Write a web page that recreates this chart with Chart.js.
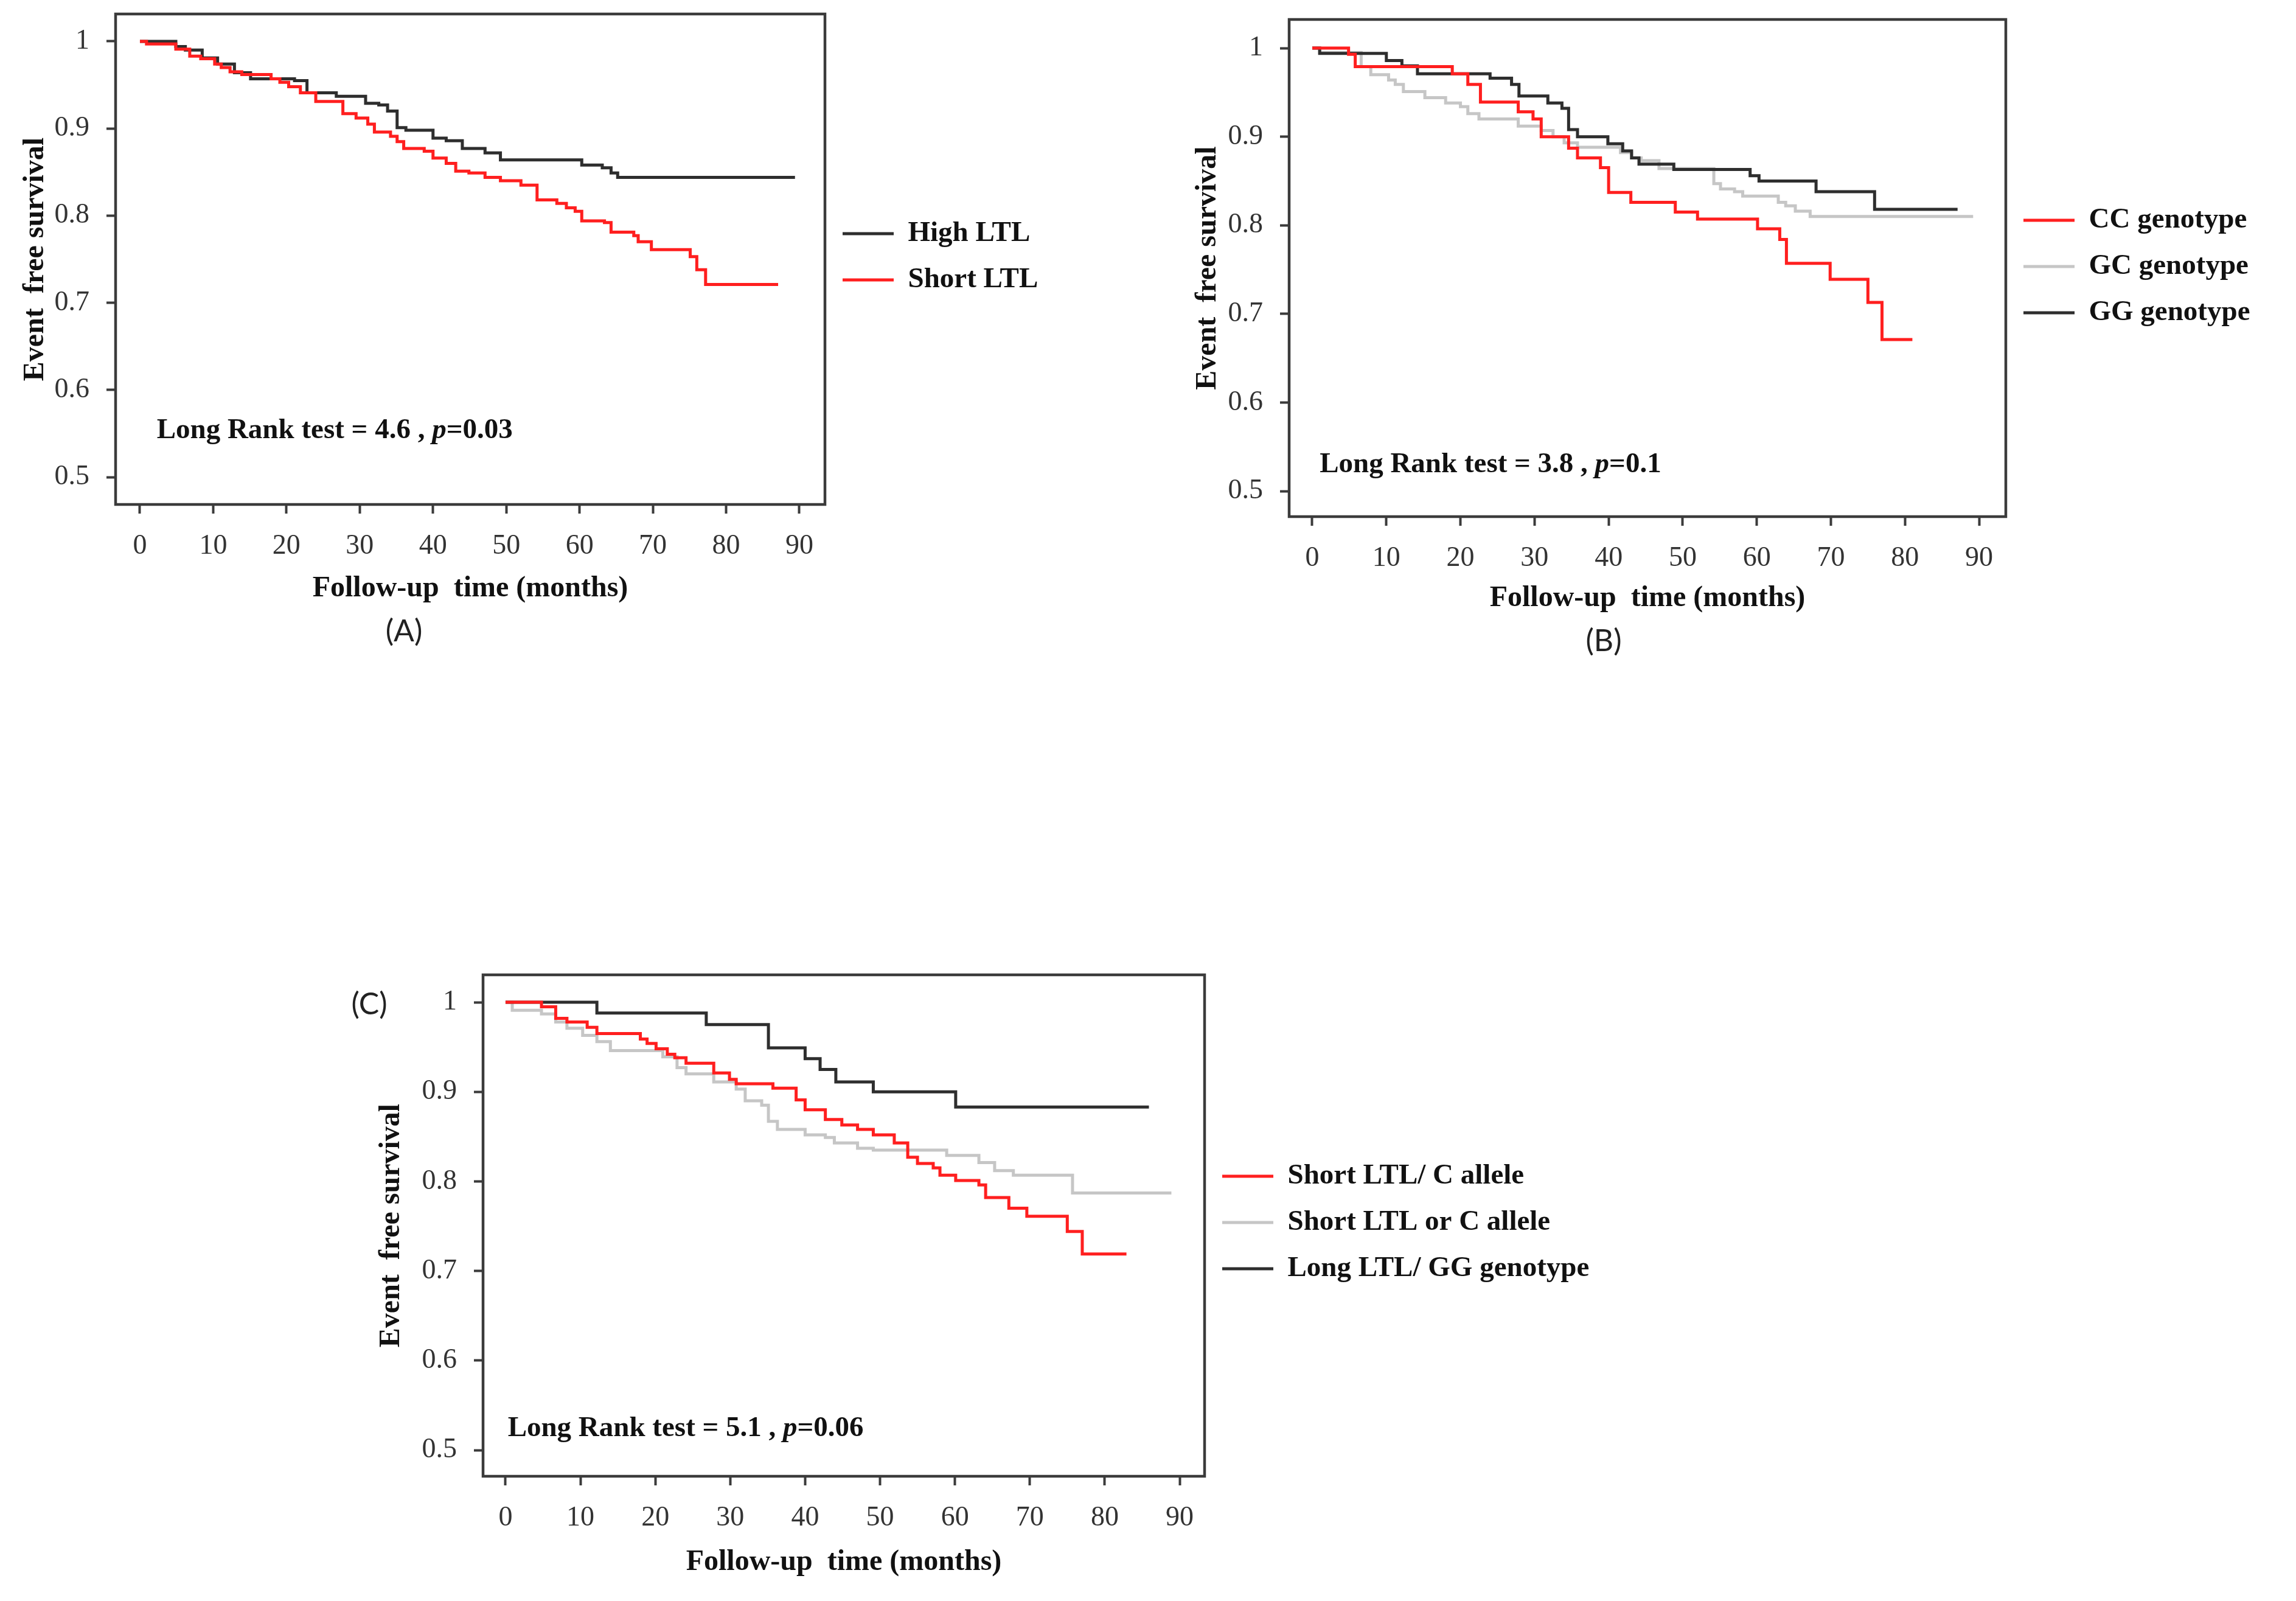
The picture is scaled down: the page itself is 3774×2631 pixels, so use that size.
<!DOCTYPE html>
<html><head><meta charset="utf-8">
<script src="https://cdn.jsdelivr.net/npm/chart.js@4.4.1/dist/chart.umd.min.js"></script>
<style>
html,body{margin:0;padding:0;background:#fff;width:3774px;height:2631px;overflow:hidden;position:relative;}
canvas{position:absolute;}
</style></head><body>
<canvas id="cA" width="1900" height="1140" style="left:0px;top:-40px;width:1900px;height:1140px"></canvas>
<canvas id="cB" width="1824" height="1107" style="left:1950px;top:-30px;width:1824px;height:1107px"></canvas>
<canvas id="cC" width="2750" height="1091" style="left:0px;top:1540px;width:2750px;height:1091px"></canvas>
<script>
// ---- axis ticks ----
const xTicks = [0,10,20,30,40,50,60,70,80,90];
const xTickLabels = ['0','10','20','30','40','50','60','70','80','90'];
const yTicks = [0.5,0.6,0.7,0.8,0.9,1];
const yTickLabels = ['0.5','0.6','0.7','0.8','0.9','1'];
const xTitle = 'Follow-up  time (months)';
const yTitle = 'Event  free survival';

// ---- Panel A ----
const labelsA = ['High LTL','Short LTL'];
const highLTL_t = [0,4.9,6.2,8.5,10.6,12.9,15.1,21.1,22.8,26.8,30.8,32.6,33.8,35.1,36.3,40.0,41.8,44.0,47.1,49.2,60.3,63.1,64.3,65.2,89.4];
const highLTL_s = [1,0.994,0.990,0.981,0.974,0.964,0.957,0.955,0.941,0.937,0.929,0.927,0.920,0.901,0.898,0.889,0.886,0.877,0.872,0.864,0.858,0.855,0.849,0.844,0.844];
const shortLTL_t = [0,0.9,4.9,6.8,8.3,10.2,11.1,12.3,13.9,17.9,19.1,20.3,21.9,24.0,27.7,29.5,31.1,32.0,34.2,35.1,36.0,38.8,40.0,41.8,43.1,44.9,47.1,49.2,52.0,54.2,56.9,58.2,59.4,60.3,63.4,64.3,67.4,68.0,69.8,75.1,76.0,77.2,87.1];
const shortLTL_s = [1,0.997,0.991,0.983,0.980,0.974,0.970,0.965,0.962,0.957,0.953,0.948,0.941,0.931,0.917,0.912,0.905,0.896,0.891,0.885,0.877,0.874,0.866,0.860,0.851,0.849,0.844,0.840,0.835,0.818,0.814,0.809,0.805,0.794,0.792,0.781,0.777,0.770,0.761,0.753,0.738,0.721,0.721];
const statA = [['Long Rank test = 4.6 , ',false],['p',true],['=0.03',false]];

// ---- Panel B ----
const labelsB = ['CC genotype','GC genotype','GG genotype'];
const cc_t = [0,4.9,5.8,18.9,21.0,22.7,27.8,29.8,30.9,34.6,35.8,38.9,40.0,43.0,49.0,52.0,60.1,63.1,64.0,69.9,75.0,76.9,81.0];
const cc_s = [1,0.993,0.979,0.971,0.959,0.939,0.928,0.920,0.900,0.887,0.876,0.865,0.837,0.826,0.815,0.807,0.796,0.784,0.757,0.739,0.713,0.671,0.671];
const gc_t = [0,1.0,6.6,7.9,10.3,11.2,12.3,15.2,18.0,20.0,21.0,22.5,27.8,30.9,32.5,34.0,35.8,41.6,43.1,44.4,46.8,54.2,55.1,57.0,58.1,62.9,63.9,65.2,67.2,89.2];
const gc_s = [1,0.995,0.979,0.970,0.964,0.959,0.951,0.944,0.938,0.934,0.926,0.920,0.912,0.907,0.900,0.893,0.888,0.882,0.876,0.873,0.864,0.847,0.841,0.838,0.833,0.826,0.822,0.816,0.810,0.810];
const gg_t = [0,1.0,10.0,12.1,14.2,24.0,26.9,27.9,31.8,33.7,34.6,35.8,39.9,41.9,43.1,44.1,48.8,59.1,60.3,68.0,75.9,87.1];
const gg_s = [1,0.994,0.986,0.980,0.971,0.966,0.959,0.946,0.938,0.932,0.908,0.900,0.892,0.884,0.876,0.869,0.863,0.856,0.850,0.838,0.818,0.818];
const statB = [['Long Rank test = 3.8 , ',false],['p',true],['=0.1',false]];

// ---- Panel C ----
const labelsC = ['Short LTL/ C allele','Short LTL or C allele','Long LTL/ GG genotype'];
const shortC_t = [0,4.8,6.7,8.2,10.9,12.2,18.0,18.9,20.1,21.6,22.6,24.1,27.8,29.9,30.8,35.7,38.8,40.0,42.7,44.9,47.0,49.1,51.9,53.7,55.0,57.1,58.0,60.1,63.2,64.1,67.2,69.6,75.0,77.0,82.9];
const shortC_s = [1,0.995,0.982,0.978,0.972,0.965,0.959,0.954,0.948,0.942,0.938,0.932,0.921,0.914,0.909,0.904,0.891,0.880,0.869,0.863,0.858,0.852,0.843,0.827,0.820,0.815,0.807,0.801,0.796,0.782,0.770,0.761,0.744,0.719,0.719];
const orC_t = [0,0.9,4.8,6.7,8.2,10.3,12.2,14.0,21.0,22.9,24.1,27.8,30.8,32.0,34.2,35.1,36.3,40.0,42.7,43.9,47.0,49.1,58.9,63.2,65.3,67.8,75.7,88.9];
const orC_s = [1,0.991,0.987,0.978,0.971,0.963,0.956,0.946,0.939,0.927,0.920,0.911,0.903,0.890,0.885,0.867,0.858,0.852,0.849,0.843,0.837,0.835,0.829,0.821,0.812,0.807,0.787,0.787];
const longC_t = [0,12.2,26.8,35.1,40.0,42.0,44.1,49.1,60.1,85.9];
const longC_s = [1,0.988,0.975,0.949,0.937,0.925,0.911,0.900,0.883,0.883];
const statC = [['Long Rank test = 5.1 , ',false],['p',true],['=0.06',false]];

const RED = '#ff1f1f', BLACK = '#2e2e2e', GRAY = '#c6c6c6';
const SERIF = '"Liberation Serif", "DejaVu Serif", serif';
Chart.defaults.font.family = SERIF;

function pts(t, s){ return t.map((v,i)=>({x:v, y:s[i]})); }
function ds(label, t, s, color, order){
  return { label, data: pts(t,s), borderColor: color, backgroundColor: color,
    borderWidth: 5, pointRadius: 0, pointHoverRadius: 0, pointBorderWidth: 5,
    pointBorderColor: color, pointBackgroundColor: color,
    stepped: 'before', tension: 0, fill: false, order,
    borderCapStyle: 'butt', borderJoinStyle: 'miter' };
}

const notesPlugin = {
  id: 'notes',
  afterDatasetsDraw(chart, args, o){
    const {ctx, chartArea: ca, scales} = chart;
    ctx.save();
    ctx.strokeStyle = '#3b3b3b'; ctx.lineWidth = 4.5;
    ctx.strokeRect(ca.left, ca.top, ca.right - ca.left, ca.bottom - ca.top);
    let x = scales.x.getPixelForValue(o.statX);
    const y = scales.y.getPixelForValue(o.statY);
    ctx.textBaseline = 'middle'; ctx.textAlign = 'left'; ctx.fillStyle = '#111';
    for (const [txt, it] of o.stat){
      ctx.font = (it ? 'italic ' : '') + 'bold 47px ' + SERIF;
      ctx.fillText(txt, x, y);
      x += ctx.measureText(txt).width;
    }
    ctx.font = '50px Lato, "Open Sans", sans-serif';
    ctx.textAlign = 'center'; ctx.fillStyle = '#222';
    ctx.fillText(o.panel, o.panelX, o.panelY);
    ctx.restore();
  }
};

function build(id, datasets, g){
  const opts = {
    responsive: false, animation: false, devicePixelRatio: 1, events: [],
    layout: { autoPadding: false, padding: { left: 0, top: g.top, right: 150, bottom: 60 } },
    plugins: {
      tooltip: { enabled: false },
      legend: { position: 'right', align: 'start',
        title: { display: true, text: '', font: { size: 10 }, padding: { top: g.legendY - g.top - 23.5 - 29 - 12, bottom: 0 } },
        labels: { usePointStyle: true, pointStyle: 'line', pointStyleWidth: 84, padding: 29,
          color: '#111', font: { family: SERIF, size: 47, weight: 'bold' },
          sort: (a,b) => a.datasetIndex - b.datasetIndex } },
      notes: { stat: g.stat, statX: g.statX, statY: g.statY, panel: g.panel, panelX: g.panelX, panelY: g.panelY }
    },
    scales: {
      x: { type: 'linear', min: g.xMin, max: g.xMax,
        afterBuildTicks: s => { s.ticks = xTicks.map(v => ({value: v})); },
        afterFit: s => { s.height = g.xH; s.paddingLeft = 0; s.paddingRight = 0; },
        ticks: { callback: v => xTickLabels[xTicks.indexOf(v)], padding: 26, color: '#333',
          font: { size: 46 }, maxRotation: 0, autoSkip: false, includeBounds: false },
        grid: { display: true, drawOnChartArea: false, drawTicks: true, tickLength: 15, tickWidth: 4, tickColor: '#3b3b3b' },
        border: { display: false },
        title: { display: true, text: xTitle, color: '#111', font: { size: 48, weight: 'bold' }, padding: { top: 0, bottom: 0 } } },
      y: { type: 'linear', min: g.yMin, max: g.yMax,
        afterBuildTicks: s => { s.ticks = yTicks.map(v => ({value: v})); },
        afterFit: s => { s.width = g.left; s.paddingTop = 0; s.paddingBottom = 0; },
        ticks: { callback: v => yTickLabels[yTicks.findIndex(t => Math.abs(t - v) < 1e-9)], padding: 28, color: '#333',
          font: { size: 46 }, autoSkip: false, includeBounds: false },
        grid: { display: true, drawOnChartArea: false, drawTicks: true, tickLength: 15, tickWidth: 4, tickColor: '#3b3b3b' },
        border: { display: false },
        title: { display: true, text: yTitle, color: '#111', font: { size: 48, weight: 'bold' }, padding: { top: g.yTitlePad, bottom: 0 } } }
    }
  };
  const chart = new Chart(document.getElementById(id), { type: 'line', data: { datasets }, plugins: [notesPlugin], options: opts });
  // align the plot box and the legend rows to the reference layout
  for (let k = 0; k < 4; k++){
    const ca = chart.chartArea, p = opts.layout.padding;
    p.right += ca.right - g.right;
    p.top += g.top - ca.top;
    p.bottom += ca.bottom - g.bottom;
    chart.update();
    const hb = chart.legend.legendHitBoxes[0];
    if (hb) { opts.plugins.legend.title.padding.top += g.legendY - (hb.top + hb.height / 2); chart.update(); }
  }
  return chart;
}

// canvas A is placed 40px above the page top, B 30px, C at page y 1540
build('cA', [
  ds(labelsA[0], highLTL_t, highLTL_s, BLACK, 1),
  ds(labelsA[1], shortLTL_t, shortLTL_s, RED, 0)
], { left: 190, top: 63, right: 1356, bottom: 869, legendY: 424, xH: 167, yTitlePad: 30,
     xMin: -3.32, xMax: 93.49, yMin: 0.4686, yMax: 1.0314,
     stat: statA, statX: 2.3, statY: 0.553, panel: '(A)', panelX: 664, panelY: 1078 });

build('cB', [
  ds(labelsB[0], cc_t, cc_s, RED, 0),
  ds(labelsB[1], gc_t, gc_s, GRAY, 2),
  ds(labelsB[2], gg_t, gg_s, BLACK, 1)
], { left: 169, top: 62, right: 1347, bottom: 879, legendY: 392, xH: 163, yTitlePad: 7,
     xMin: -3.12, xMax: 93.61, yMin: 0.4712, yMax: 1.0323,
     stat: statB, statX: 1.0, statY: 0.530, panel: '(B)', panelX: 686, panelY: 1084 });

build('cC', [
  ds(labelsC[0], shortC_t, shortC_s, RED, 0),
  ds(labelsC[1], orC_t, orC_s, GRAY, 2),
  ds(labelsC[2], longC_t, longC_s, BLACK, 1)
], { left: 794, top: 62, right: 1980, bottom: 886, legendY: 393, xH: 170, yTitlePad: 615,
     xMin: -3.0, xMax: 93.33, yMin: 0.4708, yMax: 1.0306,
     stat: statC, statX: 0.3, statY: 0.524, panel: '(C)', panelX: 607, panelY: 111 });
</script>
</body></html>
